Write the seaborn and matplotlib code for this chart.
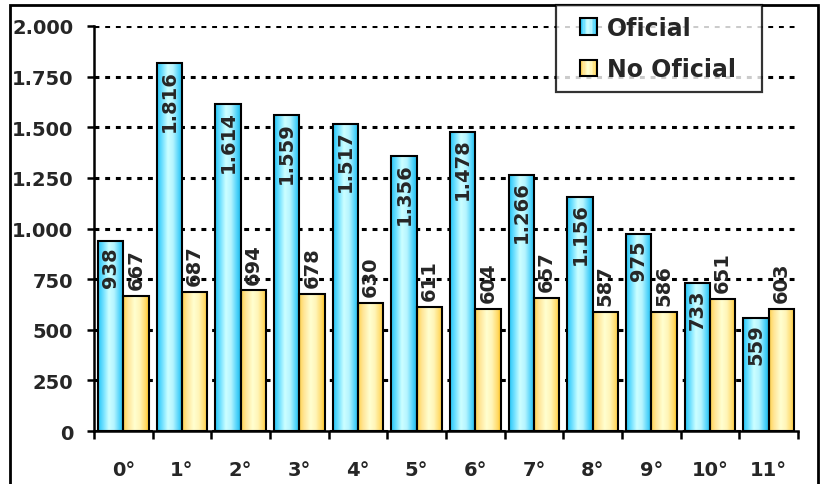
import numpy as np
import pandas as pd
import seaborn as sns
import matplotlib.pyplot as plt
from matplotlib.colors import LinearSegmentedColormap
from matplotlib.patches import Rectangle
from matplotlib.legend_handler import HandlerBase
from matplotlib.ticker import FuncFormatter, FixedLocator

categorias = ['0°', '1°', '2°', '3°', '4°', '5°', '6°', '7°', '8°', '9°', '10°', '11°']
oficial = [938, 1816, 1614, 1559, 1517, 1356, 1478, 1266, 1156, 975, 733, 559]
no_oficial = [667, 687, 694, 678, 630, 611, 604, 657, 587, 586, 651, 603]
series = ['Oficial', 'No Oficial']

df = pd.DataFrame({
    'grado': categorias * 2,
    'valor': oficial + no_oficial,
    'tipo': [series[0]] * len(categorias) + [series[1]] * len(categorias),
})

# gradient colours (left edge -> light centre -> right edge)
azul = LinearSegmentedColormap.from_list(
    'azul', [(0, '#22C4F5'), (0.18, '#66DDFF'), (0.42, '#CCFFFF'),
             (0.62, '#B5F4FF'), (0.85, '#4DD2FA'), (1, '#1AB6E6')])
amarillo = LinearSegmentedColormap.from_list(
    'amarillo', [(0, '#FFD24D'), (0.2, '#FFE699'), (0.45, '#FFFFD0'),
                 (0.65, '#FFF5B8'), (0.88, '#FFD966'), (1, '#FFC61A')])
cmaps = [azul, amarillo]

def miles(v, pos=None):
    return f"{int(v):,}".replace(',', '.')

sns.set_style('white')
plt.rcParams['font.family'] = ['DejaVu Sans']

fig = plt.figure(figsize=(8.22, 4.85), dpi=100)
ax = fig.add_axes([94 / 822, 1 - 432 / 485, (798 - 94) / 822, (432 - 27) / 485])

sns.barplot(data=df, x='grado', y='valor', hue='tipo', palette=['#7FE0FF', '#FFEB99'],
            width=0.86, edgecolor='black', linewidth=1.5, legend=False, ax=ax)

grad = np.linspace(0, 1, 256).reshape(1, -1)
for cont, cm in zip(ax.containers, cmaps):
    for bar in cont:
        bar.set_facecolor('none')
        bar.set_zorder(3)
        x, w, h = bar.get_x(), bar.get_width(), bar.get_height()
        im = ax.imshow(grad, cmap=cm, extent=[x, x + w, 0, h], aspect='auto',
                       interpolation='bilinear', zorder=2)
        im.set_clip_path(bar)

# data labels: blue inside end, yellow outside end
for i, (cont, vals) in enumerate(zip(ax.containers, [oficial, no_oficial])):
    for bar, v in zip(cont, vals):
        cx = bar.get_x() + bar.get_width() / 2
        if i == 0:
            ax.annotate(miles(v), (cx, v), xytext=(0, -4), textcoords='offset points',
                        rotation=90, ha='center', va='top', fontsize=14,
                        fontweight='bold', zorder=5)
        else:
            ax.annotate(miles(v), (cx, v), xytext=(0, 5), textcoords='offset points',
                        rotation=90, ha='center', va='bottom', fontsize=14,
                        fontweight='bold', zorder=5)

ax.set_xlim(-0.5, len(categorias) - 0.5)
ax.set_ylim(0, 2000)
ax.yaxis.set_major_locator(FixedLocator(np.arange(0, 2001, 250)))
ax.yaxis.set_major_formatter(FuncFormatter(miles))
ax.set_xlabel('')
ax.set_ylabel('')

ax.set_axisbelow(True)
ax.yaxis.grid(True, color='black', linewidth=2.2, linestyle=(0, (1.6, 1.9)))
ax.xaxis.grid(False)

for s in ['top', 'right']:
    ax.spines[s].set_visible(False)
for s in ['left', 'bottom']:
    ax.spines[s].set_color('black')
    ax.spines[s].set_linewidth(1.8)
    ax.spines[s].set_zorder(6)

ax.xaxis.set_minor_locator(FixedLocator(np.arange(-0.5, len(categorias), 1)))
ax.tick_params(axis='x', which='major', length=0, pad=21, labelsize=14)
ax.tick_params(axis='x', which='minor', length=6, width=1.8, color='black', direction='out')
ax.tick_params(axis='y', length=5, width=1.8, color='black', direction='out', pad=10, labelsize=14)
ax.yaxis.set_ticks_position('left')
ax.xaxis.set_ticks_position('bottom')
for lbl in ax.get_xticklabels() + ax.get_yticklabels():
    lbl.set_fontweight('bold')

class GradHandler(HandlerBase):
    def __init__(self, cmap):
        super().__init__()
        self.cmap = cmap

    def create_artists(self, legend, orig_handle, xdescent, ydescent, width, height, fontsize, trans):
        # square swatch at the right end of the handle box
        side = height
        x0 = -xdescent + width - side
        n = 12
        arts = []
        for k in range(n):
            arts.append(Rectangle((x0 + side * k / n, -ydescent), side / n + 0.3, side,
                                  facecolor=self.cmap((k + 0.5) / n), edgecolor='none', transform=trans))
        arts.append(Rectangle((x0, -ydescent), side, side, facecolor='none',
                              edgecolor='black', linewidth=1.5, transform=trans))
        return arts

h1 = Rectangle((0, 0), 1, 1)
h2 = Rectangle((0, 0), 1, 1)
leg = fig.legend([h1, h2], series, loc='upper left', mode='expand',
                 bbox_to_anchor=(556 / 822, 1 - 6 / 485, 206 / 822, 0), bbox_transform=fig.transFigure,
                 handler_map={h1: GradHandler(azul), h2: GradHandler(amarillo)},
                 prop={'weight': 'bold', 'size': 17}, frameon=True, fancybox=False,
                 borderpad=0.45, labelspacing=0.75, handlelength=1.3, handleheight=0.72,
                 handletextpad=0.4, borderaxespad=0)
leg.get_frame().set_edgecolor('black')
leg.get_frame().set_linewidth(1.6)
leg.get_frame().set_facecolor('white')
leg.set_zorder(10)

fig.add_artist(Rectangle((10 / 822, -0.05), (818 - 10) / 822, 1 - 6 / 485 + 0.05,
                         transform=fig.transFigure, fill=False, edgecolor='black', linewidth=2.0))

fig.savefig('out.png', dpi=100)
